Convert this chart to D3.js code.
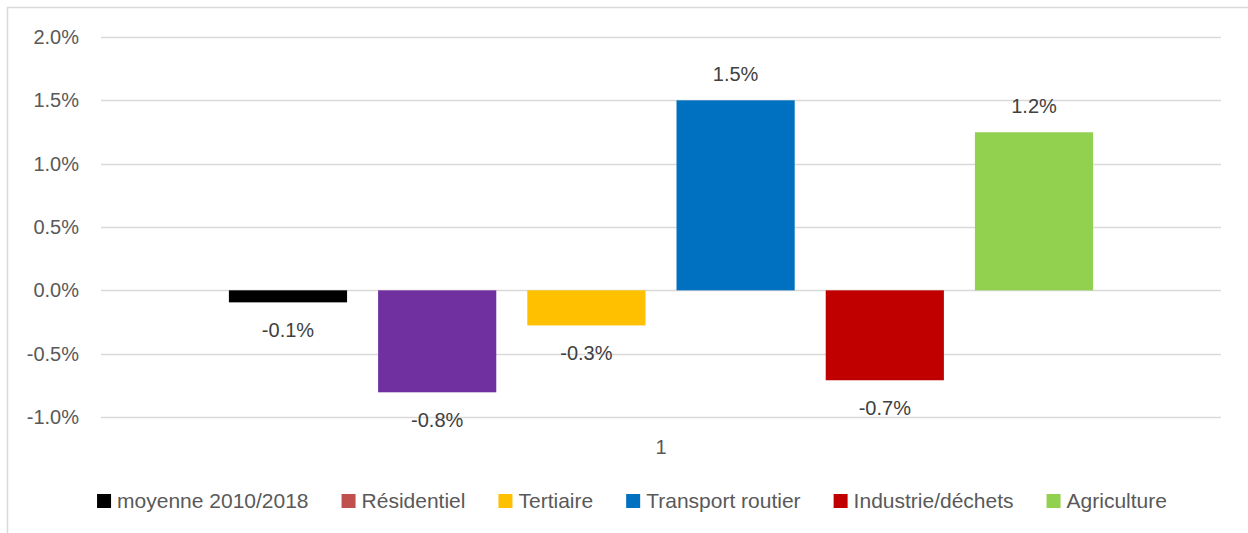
<!DOCTYPE html>
<html>
<head>
<meta charset="utf-8">
<script src="https://cdn.jsdelivr.net/npm/d3@7"></script>
<style>
  html, body { margin: 0; padding: 0; background: #fff; }
  text { font-family: "Liberation Sans", Arial, sans-serif; }
</style>
</head>
<body>
<div id="chart"></div>
<script>
(function (d3) {
    'use strict';

    // data
    var categories = ['1'];
    var seriesNames = ['moyenne 2010/2018', 'Résidentiel', 'Tertiaire', 'Transport routier', 'Industrie/déchets', 'Agriculture'];
    var seriesValues = [-0.095, -0.805, -0.277, 1.5, -0.71, 1.248];
    var valueLabels = ['-0.1%', '-0.8%', '-0.3%', '1.5%', '-0.7%', '1.2%'];
    var barColors = ['#000000', '#7030A0', '#FFC000', '#0070C0', '#C00000', '#92D050'];
    var legendColors = ['#000000', '#C0504D', '#FFC000', '#0070C0', '#C00000', '#92D050'];
    var yTicks = [-1.0, -0.5, 0.0, 0.5, 1.0, 1.5, 2.0];

    var W = 1248, H = 533;
    var plot = {left: 101, right: 1221, top: 37, bottom: 417};

    var svg = d3.select('#chart').append('svg')
        .attr('width', W)
        .attr('height', H);

    // chart area border (top and left visible)
    svg.append('path')
        .attr('d', 'M7.5,' + H + 'V7.5H' + W)
        .attr('fill', 'none')
        .attr('stroke', '#D9D9D9')
        .attr('stroke-width', 1.5);

    var y = d3.scaleLinear().domain([-1, 2]).range([plot.bottom, plot.top]);

    var x0 = d3.scaleBand().domain(categories)
        .range([plot.left, plot.right])
        .paddingInner(0)
        .paddingOuter(0.148);

    var x1 = d3.scaleBand().domain(seriesNames)
        .range([0, x0.bandwidth()])
        .paddingInner(0.208)
        .paddingOuter(0);

    // gridlines
    svg.append('g').selectAll('line')
        .data(yTicks)
        .join('line')
        .attr('x1', plot.left)
        .attr('x2', plot.right)
        .attr('y1', function (d) { return Math.round(y(d)) + 0.5; })
        .attr('y2', function (d) { return Math.round(y(d)) + 0.5; })
        .attr('stroke', '#D9D9D9')
        .attr('stroke-width', 1.5);

    // y axis labels (plain hyphen as in the original)
    var fmt = d3.format('.1f');
    svg.append('g').selectAll('text')
        .data(yTicks)
        .join('text')
        .attr('x', 79)
        .attr('y', function (d) { return y(d); })
        .attr('dy', '0.35em')
        .attr('text-anchor', 'end')
        .attr('font-size', 20)
        .attr('fill', '#595959')
        .text(function (d) { return fmt(d).replace('\u2212', '-') + '%'; });

    var bars = seriesNames.map(function (name, i) {
        return {cat: categories[0], name: name, value: seriesValues[i], label: valueLabels[i], color: barColors[i]};
    });

    var g = svg.append('g');
    g.selectAll('rect')
        .data(bars)
        .join('rect')
        .attr('x', function (d) { return x0(d.cat) + x1(d.name); })
        .attr('width', x1.bandwidth())
        .attr('y', function (d) { return y(Math.max(0, d.value)); })
        .attr('height', function (d) { return Math.abs(y(d.value) - y(0)); })
        .attr('fill', function (d) { return d.color; });

    g.selectAll('text')
        .data(bars)
        .join('text')
        .attr('x', function (d) { return x0(d.cat) + x1(d.name) + x1.bandwidth() / 2; })
        .attr('y', function (d) { return y(d.value) + (d.value < 0 ? 28 : -26); })
        .attr('dy', '0.35em')
        .attr('text-anchor', 'middle')
        .attr('font-size', 20)
        .attr('fill', '#404040')
        .text(function (d) { return d.label; });

    // category label
    svg.append('text')
        .attr('x', x0(categories[0]) + x0.bandwidth() / 2)
        .attr('y', 447)
        .attr('dy', '0.35em')
        .attr('text-anchor', 'middle')
        .attr('font-size', 20)
        .attr('fill', '#595959')
        .text(categories[0]);

    // legend
    var legend = svg.append('g');
    var items = legend.selectAll('g')
        .data(seriesNames)
        .join('g');
    items.append('rect')
        .attr('width', 14)
        .attr('height', 14)
        .attr('y', 494)
        .attr('fill', function (d, i) { return legendColors[i]; });
    items.append('text')
        .attr('x', 20)
        .attr('y', 501)
        .attr('dy', '0.35em')
        .attr('font-size', 21)
        .attr('fill', '#595959')
        .text(function (d) { return d; });

    var gap = 33;
    var pos = 0, offsets = [];
    items.each(function () {
        var w = d3.select(this).select('text').node().getComputedTextLength();
        offsets.push(pos);
        pos += 20 + w + gap;
    });
    var total = pos - gap;
    var start = 632 - total / 2;
    items.attr('transform', function (d, i) { return 'translate(' + (start + offsets[i]) + ',0)'; });

}(window.d3));
</script>
</body>
</html>
